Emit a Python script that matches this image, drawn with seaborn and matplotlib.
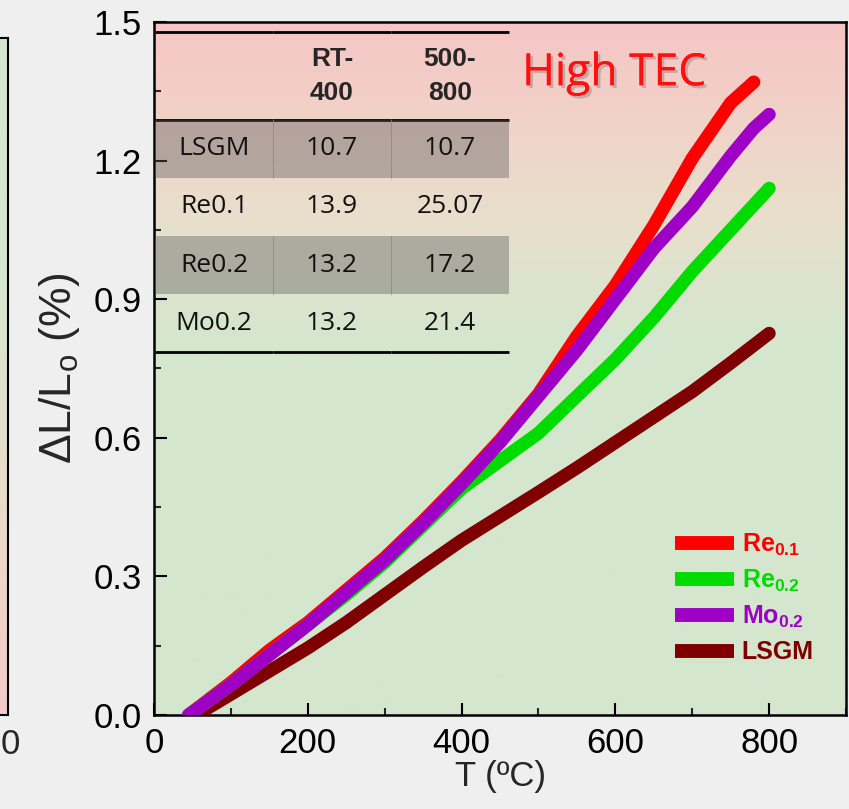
import numpy as np
import pandas as pd
import matplotlib
matplotlib.use("Agg")
import matplotlib.pyplot as plt
import matplotlib.patheffects as pe
from matplotlib.colors import LinearSegmentedColormap
from matplotlib.ticker import MultipleLocator, FormatStrFormatter
import seaborn as sns

# ---- dilatometry curves: temperature (deg C) vs. relative expansion (%) ----
temp_re01 = [45, 100, 150, 200, 250, 300, 350, 400, 450, 500, 550, 600, 650, 700, 750, 780]
dl_re01 = [0.0, 0.07, 0.14, 0.20, 0.27, 0.34, 0.42, 0.505, 0.595, 0.695, 0.82, 0.93, 1.06, 1.205, 1.325, 1.37]

temp_re02 = [45, 100, 150, 200, 250, 300, 350, 400, 450, 500, 550, 600, 650, 700, 750, 800]
dl_re02 = [0.0, 0.065, 0.13, 0.195, 0.26, 0.33, 0.41, 0.49, 0.55, 0.61, 0.69, 0.77, 0.86, 0.96, 1.05, 1.14]

temp_mo02 = [45, 100, 150, 200, 250, 300, 350, 400, 450, 500, 550, 600, 650, 700, 750, 780, 800]
dl_mo02 = [0.0, 0.065, 0.13, 0.195, 0.265, 0.335, 0.415, 0.50, 0.59, 0.69, 0.79, 0.90, 1.01, 1.10, 1.21, 1.27, 1.30]

temp_lsgm = [55, 100, 150, 200, 250, 300, 350, 400, 450, 500, 550, 600, 650, 700, 750, 800]
dl_lsgm = [0.0, 0.045, 0.095, 0.145, 0.20, 0.26, 0.32, 0.378, 0.43, 0.482, 0.535, 0.59, 0.645, 0.70, 0.762, 0.826]

# ---- TEC table (x10^-6 /K) ----
table_header = ["", "RT-\n400", "500-\n800"]
materials = ["LSGM", "Re0.1", "Re0.2", "Mo0.2"]
tec_rt_400 = [10.7, 13.9, 13.2, 13.2]
tec_500_800 = [10.7, 25.07, 17.2, 21.4]

x_ticks = [0, 200, 400, 600, 800]
y_ticks = [0.0, 0.3, 0.6, 0.9, 1.2, 1.5]

series = [
    ("LSGM", temp_lsgm, dl_lsgm, "#7f0000"),
    (r"$\mathbf{Re}_{\mathbf{0.1}}$", temp_re01, dl_re01, "#ff0000"),
    (r"$\mathbf{Re}_{\mathbf{0.2}}$", temp_re02, dl_re02, "#00dc00"),
    (r"$\mathbf{Mo}_{\mathbf{0.2}}$", temp_mo02, dl_mo02, "#9e00c6"),
]
legend_order = [1, 2, 3, 0]

sns.set_theme(style="ticks")
plt.rcParams["font.family"] = ["Liberation Sans", "DejaVu Sans"]
plt.rcParams["mathtext.fontset"] = "custom"
plt.rcParams["mathtext.rm"] = "Liberation Sans"
plt.rcParams["mathtext.it"] = "Liberation Sans:italic"
plt.rcParams["mathtext.bf"] = "Liberation Sans:bold"

fig = plt.figure(figsize=(8.49, 8.09), dpi=100)
fig.patch.set_facecolor("#efefef")

# neighbouring panel, only its right edge is visible
side = fig.add_axes([-0.1, 0.1162, 0.1094, 0.837])
side_cmap = LinearSegmentedColormap.from_list("side", ["#f3cbc8", "#e9dcc9", "#d6e6cf", "#d6e6cf"])
side.imshow(np.linspace(0, 1, 256).reshape(-1, 1), aspect="auto", cmap=side_cmap,
            extent=[0, 1, 0, 1], origin="lower")
side.set_xticks([])
side.set_yticks([])
for s in side.spines.values():
    s.set_linewidth(1.5)
    s.set_color("black")
fig.text(0.5 / 849, 1 - 745 / 809, "0", ha="left", va="center", fontsize=25)

ax = fig.add_axes([0.1814, 0.1162, 0.8151, 0.8566])

# pink (top) to green (bottom) backdrop
bg_cmap = LinearSegmentedColormap.from_list(
    "bg", [(0.0, "#d4e6ce"), (0.55, "#d6e6ce"), (0.72, "#e8dfcc"), (0.88, "#f2d0c8"), (1.0, "#f6c6c4")])
ax.imshow(np.linspace(0, 1, 256).reshape(-1, 1), aspect="auto", cmap=bg_cmap,
          extent=[0, 1, 0, 1], origin="lower", transform=ax.transAxes, zorder=0)

for label, t, d, c in series:
    df = pd.DataFrame({"T": t, "dL": d})
    sns.lineplot(data=df, x="T", y="dL", ax=ax, color=c, lw=9.5,
                 solid_capstyle="round", solid_joinstyle="round", label=label, zorder=3)

ax.set_xlim(0, 900)
ax.set_ylim(0, 1.5)
ax.set_xticks(x_ticks)
ax.set_yticks(y_ticks)
ax.xaxis.set_minor_locator(MultipleLocator(100))
ax.yaxis.set_minor_locator(MultipleLocator(0.15))
ax.yaxis.set_major_formatter(FormatStrFormatter("%.1f"))
ax.tick_params(which="major", direction="in", length=9, width=1.5, labelsize=25,
               colors="black", pad=9)
ax.tick_params(which="minor", direction="in", length=5, width=1.5)
for s in ax.spines.values():
    s.set_linewidth(1.8)
    s.set_color("black")

ax.set_xlabel("T (ºC)", fontsize=25, labelpad=0)
ax.set_ylabel(r"$\Delta$L/L$_\mathrm{o}$ (%)", fontsize=32, labelpad=8)

# legend
handles, labels = ax.get_legend_handles_labels()
handles = [handles[i] for i in legend_order]
labels = [labels[i] for i in legend_order]
leg = ax.legend(handles, labels, loc="lower right", bbox_to_anchor=(0.953, 0.073),
                frameon=False, fontsize=18, handlelength=2.35, handletextpad=0.3,
                labelspacing=0.4, borderpad=0, borderaxespad=0)
for txt, idx in zip(leg.get_texts(), legend_order):
    txt.set_color(series[idx][3])
    txt.set_fontweight("bold")
for h in leg.legend_handles:
    h.set_linewidth(10)
    h.set_solid_capstyle("butt")

# TEC table
tbl_x, tbl_y, tbl_w, tbl_h = 0.0015, 0.5238, 0.5115, 0.4618
head_h, row_h = 0.088, 0.058
cell_text = [[m, f"{a:g}", f"{b:g}"] for m, a, b in zip(materials, tec_rt_400, tec_500_800)]
tbl = ax.table(cellText=cell_text, colLabels=table_header, cellLoc="center",
               bbox=[tbl_x, tbl_y, tbl_w, tbl_h], zorder=5)
tbl.auto_set_font_size(False)
dark_rows = {1, 3}
for (r, c), cell in tbl.get_celld().items():
    txt = cell.get_text()
    cell.set_facecolor("none")
    cell.set_height(head_h if r == 0 else row_h)
    if r == 0:
        txt.set_fontfamily(["Liberation Sans", "DejaVu Sans"])
        txt.set_fontsize(19)
        txt.set_fontweight("bold")
        txt.set_linespacing(1.55)
        cell.visible_edges = "TB"
        cell.set_edgecolor("black")
        cell.set_linewidth(2.0)
    else:
        txt.set_fontfamily(["Open Sans", "DejaVu Sans"])
        txt.set_fontsize(19)
        txt.set_color("#111111")
        if r in dark_rows:
            cell.visible_edges = "closed"
            cell.set_edgecolor("none")
            cell.set_linewidth(0)
            cell.set_facecolor((0.36, 0.36, 0.36, 0.40))
        elif r == len(materials):
            cell.visible_edges = "B"
            cell.set_edgecolor("black")
            cell.set_linewidth(2.0)
        else:
            cell.visible_edges = "open"

# thin column separators inside the shaded rows
scale = tbl_h / (head_h + row_h * len(materials))
for r in dark_rows:
    top = tbl_y + tbl_h - (head_h + (r - 1) * row_h) * scale
    bot = top - row_h * scale
    for k in (1, 2):
        xs = tbl_x + tbl_w * k / 3
        ax.plot([xs, xs], [bot, top], transform=ax.transAxes, color="#8a8a8a",
                lw=0.6, zorder=6)

ax.text(0.532, 0.925, "High TEC", transform=ax.transAxes, color="#ff1010",
        fontsize=32, family=["Open Sans", "DejaVu Sans"], ha="left", va="center", zorder=6,
        path_effects=[pe.withSimplePatchShadow(offset=(2, -2), shadow_rgbFace="#777777", alpha=0.4),
                      pe.Normal()])

fig.savefig("out.png", dpi=100, facecolor=fig.get_facecolor())
